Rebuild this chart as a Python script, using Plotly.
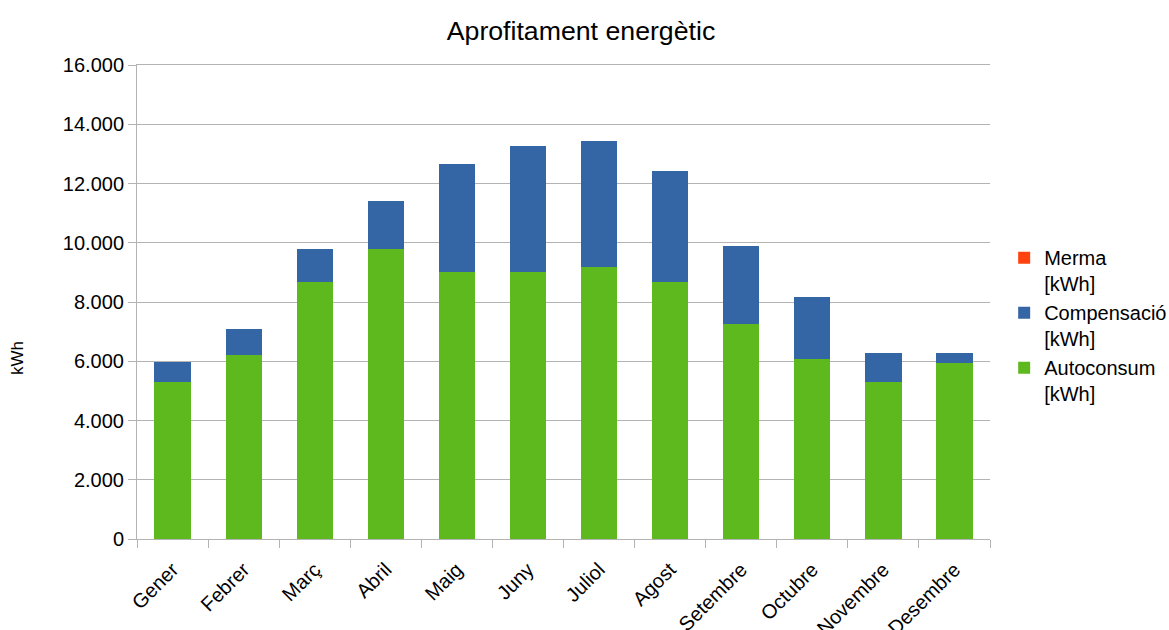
import plotly.graph_objects as go

months = ["Gener", "Febrer", "Març", "Abril", "Maig", "Juny", "Juliol",
          "Agost", "Setembre", "Octubre", "Novembre", "Desembre"]
autoconsum = [5315, 6226, 8688, 9801, 9025, 9025, 9194, 8688, 7271, 6091, 5315, 5956]
total = [5990, 7103, 9801, 11420, 12668, 13275, 13443, 12432, 9902, 8182, 6293, 6293]
compensacio = [t - a for t, a in zip(total, autoconsum)]
merma = [0] * 12

FONT = "Liberation Sans, Arial, sans-serif"

fig = go.Figure()
fig.add_bar(x=months, y=autoconsum, name="Autoconsum<br>[kWh]", marker_color="#5eb91e",
            marker_line_width=0)
fig.add_bar(x=months, y=compensacio, name="Compensació<br>[kWh]", marker_color="#3465a4",
            marker_line_width=0)
fig.add_bar(x=months, y=merma, name="Merma<br>[kWh]", marker_color="#ff420e",
            marker_line_width=0)

fig.update_layout(
    width=1169, height=630,
    barmode="stack", bargap=0.49,
    separators=",.",
    paper_bgcolor="white", plot_bgcolor="white",
    font=dict(family=FONT, color="#000000", size=20),
    title=dict(text="Aprofitament energètic", x=0.497, xanchor="center",
               y=0.952, yanchor="middle", font=dict(size=26.7, family=FONT)),
    margin=dict(l=137, r=179, t=65, b=91),
    legend=dict(xref="container", yref="container", x=0.859, y=0.622,
                xanchor="left", yanchor="top", valign="top",
                traceorder="reversed", font=dict(size=20, family=FONT),
                itemsizing="constant"),
    showlegend=True,
    annotations=[dict(text="kWh", textangle=-90, xref="paper", yref="paper",
                      x=-0.1395, y=0.382, xanchor="center", yanchor="middle",
                      showarrow=False, font=dict(size=17, family=FONT))],
)

fig.update_yaxes(
    range=[0, 16000], dtick=2000, tickformat=",.0f", automargin=False,
    showgrid=True, gridcolor="#b3b3b3", gridwidth=1,
    showline=True, linecolor="#b3b3b3", linewidth=1, mirror=False,
    ticks="outside", ticklen=8, tickcolor="#b3b3b3",
    tickfont=dict(size=20, family=FONT),
    zeroline=False,
)
fig.update_xaxes(
    automargin=False,
    showline=True, linecolor="#b3b3b3", linewidth=1, mirror=True,
    ticks="outside", ticklen=8, tickcolor="#b3b3b3", tickson="boundaries",
    tickangle=-45, tickfont=dict(size=20, family=FONT), ticklabelstandoff=10,
)

fig.write_html("out.html")
